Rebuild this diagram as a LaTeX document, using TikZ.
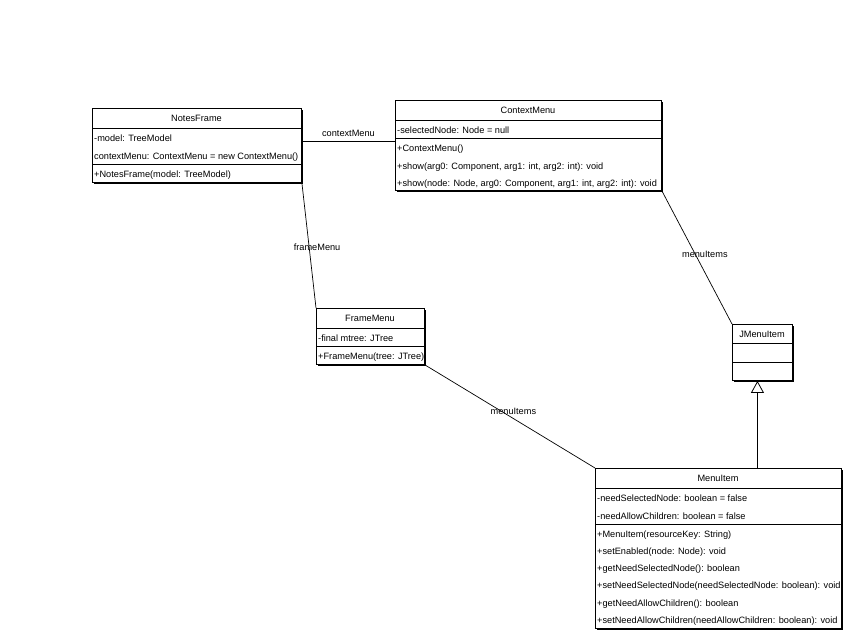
\documentclass[tikz,border=0pt]{standalone}
\usepackage{fontspec}
\setmainfont{Liberation Sans}
\usepackage{tikz}
\usetikzlibrary{positioning,arrows.meta,shadows}

\newcommand{\umlfont}{\fontsize{9.2}{10}\selectfont}

\begin{document}
\begin{tikzpicture}[x=1pt, y=-1pt,
  classbox/.style={draw, fill=white, line width=0.9pt, anchor=north west, inner sep=0pt,
    drop shadow={shadow xshift=1.2pt, shadow yshift=-1.2pt, fill=black, opacity=1}},
  txt/.style={inner sep=0pt, text height=6.6pt, text depth=1.9pt, yshift=-1.2pt, font=\umlfont},
  cname/.style={txt},
  member/.style={txt, anchor=west},
  role/.style={txt},
  assoc/.style={line width=0.7pt},
  inherit/.style={line width=0.8pt, -{Triangle[open, length=12pt, width=13pt, fill=white]}}]

  \path[use as bounding box, fill=white] (0,0) rectangle (848,631);

  % NotesFrame
  \node[classbox, minimum width=209pt, minimum height=74pt] (nf) at (92,108) {};
  \node[cname] (nf-name) at (196.5,118) {NotesFrame};
  \draw (nf.west |- 0,128) -- (nf.east |- 0,128);
  \node[member] (nf-a1) at (94,138) {-model: TreeModel};
  \node[member] (nf-a2) at (94,156) {contextMenu: ContextMenu = new ContextMenu()};
  \draw (nf.west |- 0,164.5) -- (nf.east |- 0,164.5);
  \node[member] (nf-m1) at (94,173.5) {+NotesFrame(model: TreeModel)};

  % ContextMenu
  \node[classbox, minimum width=266pt, minimum height=90pt] (cm) at (395,100) {};
  \node[cname] (cm-name) at (528,110) {ContextMenu};
  \draw (cm.west |- 0,120) -- (cm.east |- 0,120);
  \node[member] (cm-a1) at (397,129.5) {-selectedNode: Node = null};
  \draw (cm.west |- 0,138) -- (cm.east |- 0,138);
  \node[member] (cm-m1) at (397,147.5) {+ContextMenu()};
  \node[member] (cm-m2) at (397,165.5) {+show(arg0: Component, arg1: int, arg2: int): void};
  \node[member] (cm-m3) at (397,183) {+show(node: Node, arg0: Component, arg1: int, arg2: int): void};

  % FrameMenu
  \node[classbox, minimum width=108pt, minimum height=56pt] (fm) at (316,308) {};
  \node[cname] (fm-name) at (370,318) {FrameMenu};
  \draw (fm.west |- 0,328) -- (fm.east |- 0,328);
  \node[member] (fm-a1) at (318,338) {-final mtree: JTree};
  \draw (fm.west |- 0,346) -- (fm.east |- 0,346);
  \node[member] (fm-m1) at (318,356) {+FrameMenu(tree: JTree)};

  % JMenuItem
  \node[classbox, minimum width=60pt, minimum height=56pt] (jm) at (732,324) {};
  \node[cname] (jm-name) at (762,333.5) {JMenuItem};
  \draw (jm.west |- 0,343) -- (jm.east |- 0,343);
  \draw (jm.west |- 0,362) -- (jm.east |- 0,362);

  % MenuItem
  \node[classbox, minimum width=246pt, minimum height=160pt] (mi) at (595,468) {};
  \node[cname] (mi-name) at (718,478) {MenuItem};
  \draw (mi.west |- 0,488) -- (mi.east |- 0,488);
  \node[member] (mi-a1) at (597,497.5) {-needSelectedNode: boolean = false};
  \node[member] (mi-a2) at (597,515.5) {-needAllowChildren: boolean = false};
  \draw (mi.west |- 0,524) -- (mi.east |- 0,524);
  \node[member] (mi-m1) at (597,533.5) {+MenuItem(resourceKey: String)};
  \node[member] (mi-m2) at (597,550.8) {+setEnabled(node: Node): void};
  \node[member] (mi-m3) at (597,568.1) {+getNeedSelectedNode(): boolean};
  \node[member] (mi-m4) at (597,585.4) {+setNeedSelectedNode(needSelectedNode: boolean): void};
  \node[member] (mi-m5) at (597,602.7) {+getNeedAllowChildren(): boolean};
  \node[member] (mi-m6) at (597,620) {+setNeedAllowChildren(needAllowChildren: boolean): void};

  % associations
  \draw[assoc] ([yshift=4pt]nf.east) -- node[role, yshift=8pt] (r-ctx) {contextMenu} ([yshift=4pt]cm.west);
  \draw[assoc] (nf.south east) -- node[role, pos=0.51, xshift=8pt] (r-frame) {frameMenu} (fm.north west);
  \draw[assoc] (cm.south east) -- node[role, pos=0.47, xshift=10pt] (r-items1) {menuItems} (jm.north west);
  \draw[assoc] (fm.south east) -- node[role, pos=0.52, yshift=8pt] (r-items2) {menuItems} (mi.north west);

  % generalization
  \coordinate (gen) at ([xshift=-5pt]jm.south);
  \draw[inherit] (gen |- mi.north) -- (gen);
\end{tikzpicture}
\end{document}
